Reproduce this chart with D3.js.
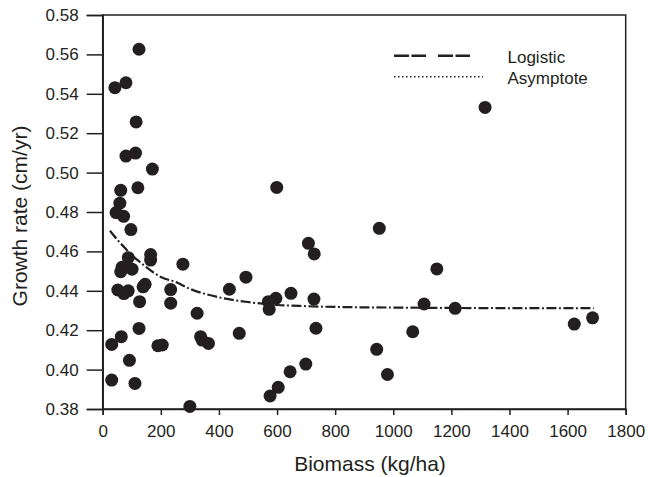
<!DOCTYPE html>
<html><head><meta charset="utf-8">
<script src="https://cdn.jsdelivr.net/npm/d3@7"></script>
<style>body{margin:0;background:#fff}svg{display:block}text{font-family:Arial,"Liberation Sans",sans-serif;fill:#231f20}</style>
</head><body><svg id="c" width="648" height="477"></svg>
<script>
// Scatter data: biomass (kg/ha), growth rate (cm/yr)
const biomass = [125,42,80,115,80,113,171,62,121,59,46,72,97,88,165,165,276,67,101,62,52,73,88,139,146,234,127,234,325,31,64,125,190,205,337,342,364,92,31,111,300,599,952,708,728,493,436,470,570,596,573,648,727,734,699,645,604,576,943,980,1150,1106,1213,1067,1623,1686,1316];
const growth = [0.5626,0.5431,0.5456,0.5257,0.5084,0.5099,0.5018,0.4910,0.4923,0.4845,0.4797,0.4778,0.4711,0.4568,0.4584,0.4556,0.4535,0.4520,0.4510,0.4497,0.4404,0.4386,0.4400,0.4420,0.4433,0.4406,0.4345,0.4337,0.4286,0.4128,0.4167,0.4209,0.4121,0.4125,0.4167,0.4150,0.4133,0.4047,0.3947,0.3930,0.3813,0.4925,0.4717,0.4641,0.4587,0.4469,0.4408,0.4184,0.4345,0.4362,0.4306,0.4387,0.4358,0.4210,0.4028,0.3989,0.3910,0.3866,0.4103,0.3975,0.4511,0.4333,0.4311,0.4192,0.4231,0.4263,0.5331];
// Fitted curves
const curveX = [25,50,75,100,125,150,200,250,300,400,500,600,700,800,1000,1200,1400,1690];
const logisticY = [0.4705,0.4660,0.4620,0.4580,0.4550,0.4520,0.4470,0.4445,0.4410,0.4367,0.4343,0.4328,0.4322,0.4318,0.4315,0.4313,0.4312,0.4312];
const asymptoteY = [0.4705,0.4660,0.4620,0.4580,0.4550,0.4520,0.4470,0.4445,0.4410,0.4367,0.4343,0.4328,0.4322,0.4318,0.4315,0.4313,0.4312,0.4312];
const xTicks = [0,200,400,600,800,1000,1200,1400,1600,1800];
const yTicks = [0.38,0.40,0.42,0.44,0.46,0.48,0.50,0.52,0.54,0.56,0.58];
const legendLabels = ["Logistic","Asymptote"];

const ink = "#231f20";
const svg = d3.select("#c");
const x = d3.scaleLinear().domain([0,1800]).range([102.7,625.7]);
const y = d3.scaleLinear().domain([0.38,0.58]).range([409,15]);

// frame
svg.append("rect").attr("x",x(0)).attr("y",y(0.58)).attr("width",x(1800)-x(0)).attr("height",y(0.38)-y(0.58))
  .attr("fill","none").attr("stroke",ink).attr("stroke-width",1.5);

// axes
const xa = svg.append("g").attr("transform",`translate(0,${y(0.38)})`)
  .call(d3.axisBottom(x).tickValues(xTicks).tickSize(6).tickPadding(10).tickFormat(d3.format("d")));
const ya = svg.append("g").attr("transform",`translate(${x(0)},0)`)
  .call(d3.axisLeft(y).tickValues(yTicks).tickSize(16).tickPadding(8).tickFormat(d3.format(".2f")));
[xa,ya].forEach(g=>{
  g.select(".domain").attr("stroke",ink).attr("stroke-width",1.5);
  g.selectAll(".tick line").attr("stroke",ink).attr("stroke-width",1.5);
  g.selectAll(".tick text").attr("fill",ink).style("font-size","17px").style("font-family","Arial,'Liberation Sans',sans-serif");
});

// axis titles
svg.append("text").attr("x",370).attr("y",471).attr("text-anchor","middle").style("font-size","21px").text("Biomass (kg/ha)");
svg.append("text").attr("transform","translate(27,216) rotate(-90)").attr("text-anchor","middle").style("font-size","21px").text("Growth rate (cm/yr)");

// curves
const line = d3.line().x(d=>x(d[0])).y(d=>y(d[1])).curve(d3.curveMonotoneX);
svg.append("path").datum(curveX.map((v,i)=>[v,logisticY[i]])).attr("d",line)
  .attr("fill","none").attr("stroke",ink).attr("stroke-width",2.2).attr("stroke-dasharray","10,7");
svg.append("path").datum(curveX.map((v,i)=>[v,asymptoteY[i]])).attr("d",line)
  .attr("fill","none").attr("stroke",ink).attr("stroke-width",2).attr("stroke-dasharray","2,15").attr("stroke-dashoffset",-12.5);

// points
svg.append("g").selectAll("circle").data(biomass.map((b,i)=>[b,growth[i]])).join("circle")
  .attr("cx",d=>x(d[0])).attr("cy",d=>y(d[1])).attr("r",6.5).attr("fill",ink);

// legend
const lg = svg.append("g");
lg.append("line").attr("x1",394).attr("x2",471).attr("y1",55.7).attr("y2",55.7).attr("stroke",ink).attr("stroke-width",2.5).attr("stroke-dasharray","15,2.5,14.5,12");
lg.append("line").attr("x1",394).attr("x2",483).attr("y1",76.7).attr("y2",76.7).attr("stroke",ink).attr("stroke-width",1.5).attr("stroke-dasharray","1.5,2.5");
lg.selectAll("text").data(legendLabels).join("text").attr("x",507.5).attr("y",(d,i)=>63+i*20.5).style("font-size","17px").text(d=>d);
</script></body></html>
